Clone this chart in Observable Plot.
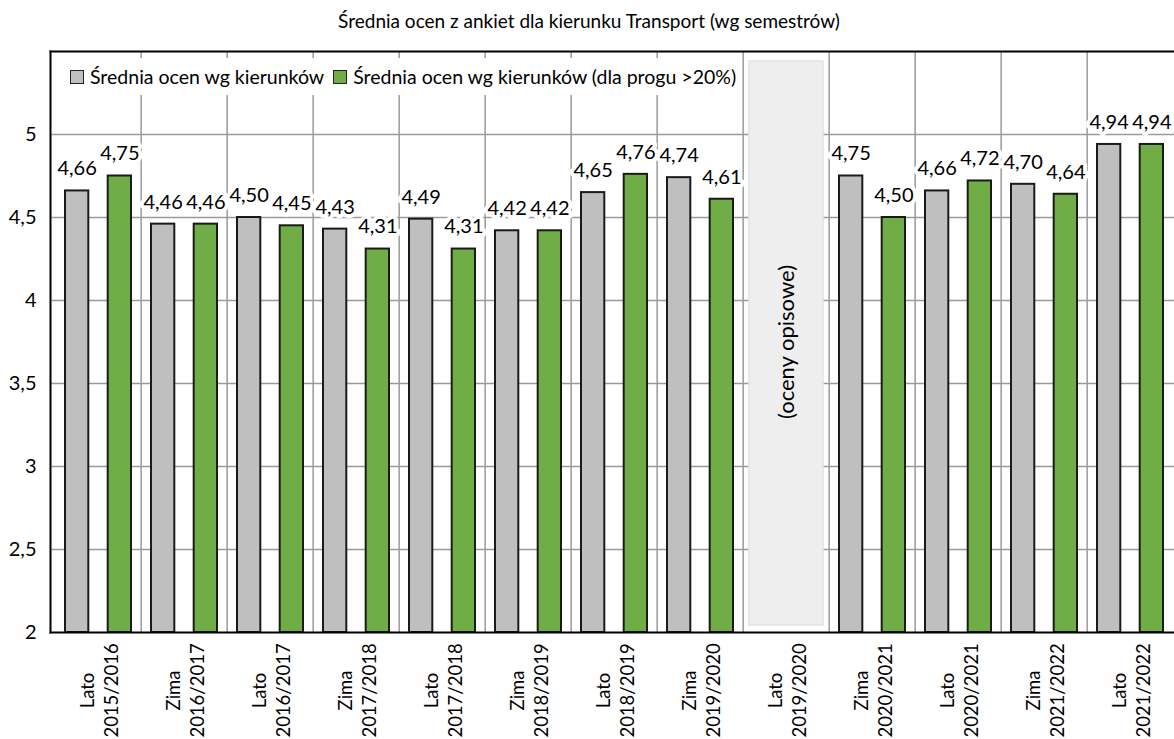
<!DOCTYPE html>
<html><head><meta charset="utf-8">
<script src="https://cdn.jsdelivr.net/npm/d3@7"></script>
<script src="https://cdn.jsdelivr.net/npm/@observablehq/plot@0.6"></script>
<style>
html,body{margin:0;padding:0;background:#fff;overflow:hidden}
#wrap{position:relative;width:1174px;height:739px;overflow:hidden;font-family:Lato,sans-serif;color:#000}
#chart{position:absolute;left:0;top:0;width:1178px}
#chart svg{max-width:none !important;width:1178px;height:739px}
#title{position:absolute;top:9px;left:0;width:1178px;text-align:center;font-size:19px;white-space:nowrap}
#legend{position:absolute;left:57px;top:58px;height:37px;width:681px;background:#fff;display:flex;align-items:center;font-size:19.5px;white-space:nowrap}
.sw{display:inline-block;width:12px;height:12px;border:1.5px solid #222;margin:0 6px 0 13px}
.sw.second{margin-left:9px}
</style>
</head><body>
<div id="wrap"><div id="chart"></div><div id="title"></div><div id="legend"></div></div>
<script>
const title = "Średnia ocen z ankiet dla kierunku Transport (wg semestrów)";
const categories = ["Lato\n2015/2016","Zima\n2016/2017","Lato\n2016/2017","Zima\n2017/2018","Lato\n2017/2018","Zima\n2018/2019","Lato\n2018/2019","Zima\n2019/2020","Lato\n2019/2020","Zima\n2020/2021","Lato\n2020/2021","Zima\n2021/2022","Lato\n2021/2022"];
const avgAll =       [4.66,4.46,4.50,4.43,4.49,4.42,4.65,4.74,null,4.75,4.66,4.70,4.94];
const avgThreshold = [4.75,4.46,4.45,4.31,4.31,4.42,4.76,4.61,null,4.50,4.72,4.64,4.94];
const seriesNames = ["Średnia ocen wg kierunków","Średnia ocen wg kierunków (dla progu >20%)"];
const seriesColors = ["#bfbfbf","#70ad47"];
const yTicks = [2,2.5,3,3.5,4,4.5,5];
const yDomain = [2,5.5];
const noteCategory = "Lato\n2019/2020";
const noteText = "(oceny opisowe)";

document.getElementById("title").textContent = title;
document.getElementById("legend").innerHTML =
  `<span class="sw" style="background:${seriesColors[0]}"></span><span>${seriesNames[0]}</span>` +
  `<span class="sw second" style="background:${seriesColors[1]}"></span><span>${seriesNames[1]}</span>`;

const rows = [];
categories.forEach((c,i)=>{
  if (avgAll[i] != null) rows.push({cat:c, series:0, value:avgAll[i]});
  if (avgThreshold[i] != null) rows.push({cat:c, series:1, value:avgThreshold[i]});
});
const W = 1178, ML = 50, MR = 1;
const bw = (W-ML-MR)/categories.length;
const barW = 24, pad = 10;
const fmt = v => v.toFixed(2).replace(".", ",");
const s0 = rows.filter(d=>d.series===0), s1 = rows.filter(d=>d.series===1);

const chart = Plot.plot({
  width: W, height: 739,
  marginLeft: ML, marginRight: MR, marginTop: 51, marginBottom: 107,
  style: {fontFamily: "Lato, sans-serif", fontSize: "19px", color: "#000", background: "#fff"},
  x: {domain: categories, padding: 0, axis: null},
  y: {domain: yDomain, axis: null},
  marks: [
    Plot.ruleY(yTicks.slice(1), {y: d=>d, stroke: "#9a9a9a", strokeWidth: 1.5}),
    Plot.ruleX(categories.slice(1), {x: d=>d, dx: -bw/2, stroke: "#9a9a9a", strokeWidth: 1.5}),
    Plot.barY([noteCategory], {x: d=>d, y1: yDomain[0], y2: yDomain[1], insetLeft: 6, insetRight: 6, insetTop: 10, insetBottom: 7, fill: "#eeeeee", stroke: "#e2e2e2", strokeWidth: 1.5}),
    Plot.text([noteCategory], {x: d=>d, y: (yDomain[0]+yDomain[1])/2, text: ()=>noteText, rotate: -90, fontSize: 22}),
    Plot.barY(s0, {x: "cat", y1: yDomain[0], y2: "value", insetLeft: pad, insetRight: bw-pad-barW, fill: seriesColors[0], stroke: "#1a1a1a", strokeWidth: 2}),
    Plot.barY(s1, {x: "cat", y1: yDomain[0], y2: "value", insetLeft: bw-pad-barW, insetRight: pad, fill: seriesColors[1], stroke: "#1a1a1a", strokeWidth: 2}),
    Plot.text(s0, {x: "cat", y: "value", text: d=>fmt(d.value), dx: pad+barW/2-bw/2, dy: -22, fontSize: 20, stroke: "#fff", strokeWidth: 8, fill: "#000"}),
    Plot.text(s1, {x: "cat", y: "value", text: d=>fmt(d.value), dx: bw/2-pad-barW/2, dy: -22, fontSize: 20, stroke: "#fff", strokeWidth: 8, fill: "#000"}),
    Plot.axisY(yTicks, {label: null, tickSize: 0, tickPadding: 14, tickFormat: d=>String(d).replace(".", ","), fontSize: 20}),
    Plot.text(categories, {x: d=>d, frameAnchor: "bottom", dy: 58, rotate: -90, textAnchor: "middle", lineAnchor: "middle", lineHeight: 1.28, fontSize: 18.5}),
    Plot.frame({anchor: "top", stroke: "#000", strokeWidth: 2}),
    Plot.frame({anchor: "left", stroke: "#000", strokeWidth: 2}),
    Plot.frame({anchor: "bottom", stroke: "#000", strokeWidth: 2})
  ]
});
document.getElementById("chart").appendChild(chart);
</script>
</body></html>
